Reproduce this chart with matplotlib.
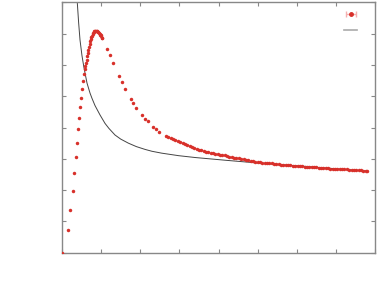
import matplotlib.pyplot as plt
from matplotlib.lines import Line2D

# measured points (rising branch, peak, decay)
meas_x = [0.0, 0.161, 0.212, 0.274, 0.315, 0.350, 0.376, 0.409, 0.435, 0.460,
          0.494, 0.512, 0.529, 0.555, 0.581,
          0.600, 0.615, 0.630, 0.645, 0.660, 0.675, 0.690, 0.705, 0.720, 0.735,
          0.750, 0.765, 0.780, 0.795, 0.810, 0.825, 0.840, 0.855, 0.870, 0.885,
          0.900, 0.915, 0.930, 0.945, 0.960, 0.975, 0.990, 1.005, 1.020, 1.030,
          1.159, 1.228, 1.312, 1.458, 1.527, 1.604, 1.757, 1.824, 1.900, 2.046,
          2.123, 2.200, 2.335, 2.404, 2.488,
          2.66, 2.72, 2.78, 2.84, 2.90, 2.96, 3.02, 3.08, 3.14, 3.20,
          3.26, 3.32, 3.38, 3.44, 3.50, 3.56, 3.62, 3.68, 3.74, 3.80,
          3.86, 3.92, 3.98, 4.04, 4.10, 4.16, 4.22, 4.28, 4.34, 4.40,
          4.46, 4.52, 4.58, 4.64, 4.70, 4.76, 4.82, 4.88, 4.94, 5.00,
          5.06, 5.12, 5.18, 5.24, 5.30, 5.36, 5.42, 5.48, 5.54, 5.60,
          5.66, 5.72, 5.78, 5.84, 5.90, 5.96, 6.02, 6.08, 6.14, 6.20,
          6.26, 6.32, 6.38, 6.44, 6.50, 6.56, 6.62, 6.68, 6.74, 6.80,
          6.86, 6.92, 6.98, 7.04, 7.10, 7.16, 7.22, 7.28, 7.34, 7.40,
          7.46, 7.52, 7.58, 7.64, 7.70, 7.76, 7.80]
meas_y = [0.0, 0.716, 1.374, 1.98, 2.556, 3.067, 3.514, 3.952, 4.30, 4.66,
          4.95, 5.24, 5.48, 5.70, 5.88,
          5.97, 6.07, 6.17, 6.27, 6.38, 6.48, 6.58, 6.67, 6.75, 6.82,
          6.88, 6.93, 6.98, 7.02, 7.05, 7.07, 7.08, 7.09, 7.09, 7.08,
          7.07, 7.06, 7.04, 7.02, 7.00, 6.97, 6.94, 6.91, 6.87, 6.85,
          6.50, 6.32, 6.07, 5.65, 5.45, 5.24, 4.90, 4.77, 4.61, 4.39,
          4.28, 4.20, 4.03, 3.95, 3.87,
          3.74, 3.70, 3.67, 3.63, 3.60, 3.57, 3.53, 3.50, 3.46, 3.43,
          3.40, 3.37, 3.35, 3.32, 3.29, 3.27, 3.25, 3.23, 3.21, 3.20,
          3.18, 3.16, 3.15, 3.13, 3.12, 3.11, 3.09, 3.07, 3.06, 3.04,
          3.03, 3.02, 3.00, 2.99, 2.97, 2.96, 2.94, 2.93, 2.91, 2.90,
          2.89, 2.88, 2.87, 2.86, 2.85, 2.85, 2.84, 2.83, 2.82, 2.81,
          2.81, 2.80, 2.79, 2.79, 2.78, 2.78, 2.77, 2.76, 2.76, 2.75,
          2.75, 2.74, 2.74, 2.73, 2.73, 2.72, 2.71, 2.71, 2.70, 2.70,
          2.69, 2.69, 2.68, 2.68, 2.67, 2.67, 2.66, 2.66, 2.65, 2.65,
          2.64, 2.64, 2.63, 2.63, 2.62, 2.62, 2.61]

# model curve
model_x = [0.391, 0.425, 0.460, 0.510, 0.563, 0.639, 0.716, 0.767, 0.844, 0.972,
           1.100, 1.200, 1.355, 1.500, 1.696, 1.900, 2.123, 2.300, 2.550, 2.98,
           3.41, 4.21, 5.06, 6.09, 7.11, 7.80]
model_y = [7.99, 7.35, 6.80, 6.30, 5.90, 5.42, 5.10, 4.93, 4.70, 4.40,
           4.13, 3.97, 3.76, 3.63, 3.50, 3.39, 3.30, 3.24, 3.18, 3.10,
           3.04, 2.95, 2.86, 2.77, 2.67, 2.61]

red = '#d8302a'
grey = '#888888'

fig = plt.figure(figsize=(3.91, 2.92), dpi=100)
ax = fig.add_axes([62 / 391, 1 - 252.7 / 292, 313 / 391, 250.4 / 292])

ax.plot(model_x, model_y, color='#444444', lw=0.7, zorder=2)
ax.plot(meas_x, meas_y, 'o', color=red, markersize=2.5, markeredgewidth=0, zorder=3)

ax.set_xlim(0, 8)
ax.set_ylim(0, 8)
ax.set_xticks(range(9))
ax.set_yticks(range(9))
ax.set_xticklabels([])
ax.set_yticklabels([])
ax.tick_params(direction='in', length=3, width=0.8, color=grey,
               top=True, right=True)
for s in ax.spines.values():
    s.set_color(grey)
    s.set_linewidth(1.0)

# legend handles (no label text in the original)
h1 = ax.errorbar([float('nan')], [float('nan')], xerr=[0.1], fmt='o', color=red,
                 markersize=2.5, ecolor='#f4b0b0', elinewidth=1, capsize=2)
h2 = Line2D([], [], color='#aaaaaa', lw=1.2)
ax.legend([h1, h2], [' ', ' '], loc='upper right', frameon=False,
          bbox_to_anchor=(0.965, 0.989), borderaxespad=0,
          handlelength=1.3, handletextpad=0.0, labelspacing=0.65,
          fontsize=7)

fig.savefig('out.png', dpi=100)
